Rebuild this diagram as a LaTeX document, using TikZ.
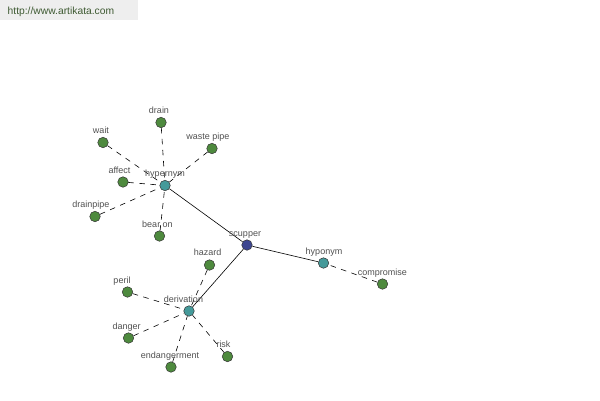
\documentclass[tikz,border=0pt]{standalone}
\usepackage{fontspec}
\setmainfont{Liberation Sans}
\definecolor{leafg}{HTML}{4E8A3E}
\definecolor{midt}{HTML}{459A9A}
\definecolor{rootb}{HTML}{3D4690}
\definecolor{txtg}{HTML}{505050}
\definecolor{wmbg}{HTML}{EEEEEE}
\definecolor{wmtx}{HTML}{3E5A32}
\tikzset{
  dot/.style={circle,draw=black!80,line width=0.5pt,minimum size=10.5pt,inner sep=0pt},
  leaf/.style={dot,fill=leafg},
  mid/.style={dot,fill=midt},
  root/.style={dot,fill=rootb},
  lbl/.style={text=txtg,font=\fontsize{9}{10}\selectfont,inner sep=0pt,text height=6.2pt,text depth=1.7pt},
  dl/.style={dashed,dash pattern=on 5.5pt off 5.5pt,line width=0.6pt,black},
  sl/.style={line width=0.6pt,black}
}
\begin{document}
\begin{tikzpicture}[x=1pt,y=-1pt]
\useasboundingbox (0,0) rectangle (600,400);
\fill[wmbg] (0,0) rectangle (138,20);
\node[text=wmtx,font=\fontsize{10.3}{12}\selectfont,anchor=west,inner sep=0pt] (wm) at (7.5,11.5) {http://www.artikata.com};
% nodes
\node[root] (scupper) at (247,245) {};
\node[mid] (hypernym) at (165,185.5) {};
\node[mid] (hyponym) at (323.5,263) {};
\node[mid] (derivation) at (189,311) {};
\node[leaf] (drain) at (161,122.5) {};
\node[leaf] (wait) at (103,142.5) {};
\node[leaf] (wastepipe) at (212,148.5) {};
\node[leaf] (affect) at (123,182) {};
\node[leaf] (drainpipe) at (95,216.5) {};
\node[leaf] (bearon) at (159.5,236) {};
\node[leaf] (hazard) at (209.5,265) {};
\node[leaf] (peril) at (127.5,292) {};
\node[leaf] (danger) at (128.5,338) {};
\node[leaf] (endangerment) at (171,367) {};
\node[leaf] (risk) at (227.5,356.5) {};
\node[leaf] (compromise) at (382.5,284) {};
% edges
\draw[sl] (scupper) -- (hypernym);
\draw[sl] (scupper) -- (hyponym);
\draw[sl] (scupper) -- (derivation);
\foreach \n in {drain,wait,wastepipe,affect,drainpipe,bearon}
  \draw[dl] (\n) -- (hypernym);
\foreach \n in {hazard,peril,danger,endangerment,risk}
  \draw[dl] (\n) -- (derivation);
\draw[dl] (compromise) -- (hyponym);
% labels
\node[lbl] (l-scupper) at (245,234) {scupper};
\node[lbl] (l-hypernym) at (165,174) {hypernym};
\node[lbl] (l-hyponym) at (324,252.3) {hyponym};
\node[lbl] (l-derivation) at (183.5,300) {derivation};
\node[lbl] (l-drain) at (159,111) {drain};
\node[lbl] (l-wait) at (101,131.5) {wait};
\node[lbl] (l-wastepipe) at (208,137.3) {waste pipe};
\node[lbl] (l-affect) at (119.5,171) {affect};
\node[lbl] (l-drainpipe) at (91,205.5) {drainpipe};
\node[lbl] (l-bearon) at (157.5,225.5) {bear on};
\node[lbl] (l-hazard) at (207.7,253.7) {hazard};
\node[lbl] (l-peril) at (122,281.5) {peril};
\node[lbl] (l-danger) at (126.7,327.3) {danger};
\node[lbl] (l-endangerment) at (170,356.3) {endangerment};
\node[lbl] (l-risk) at (223.5,345.3) {risk};
\node[lbl] (l-compromise) at (382.3,273.3) {compromise};
\end{tikzpicture}
\end{document}
